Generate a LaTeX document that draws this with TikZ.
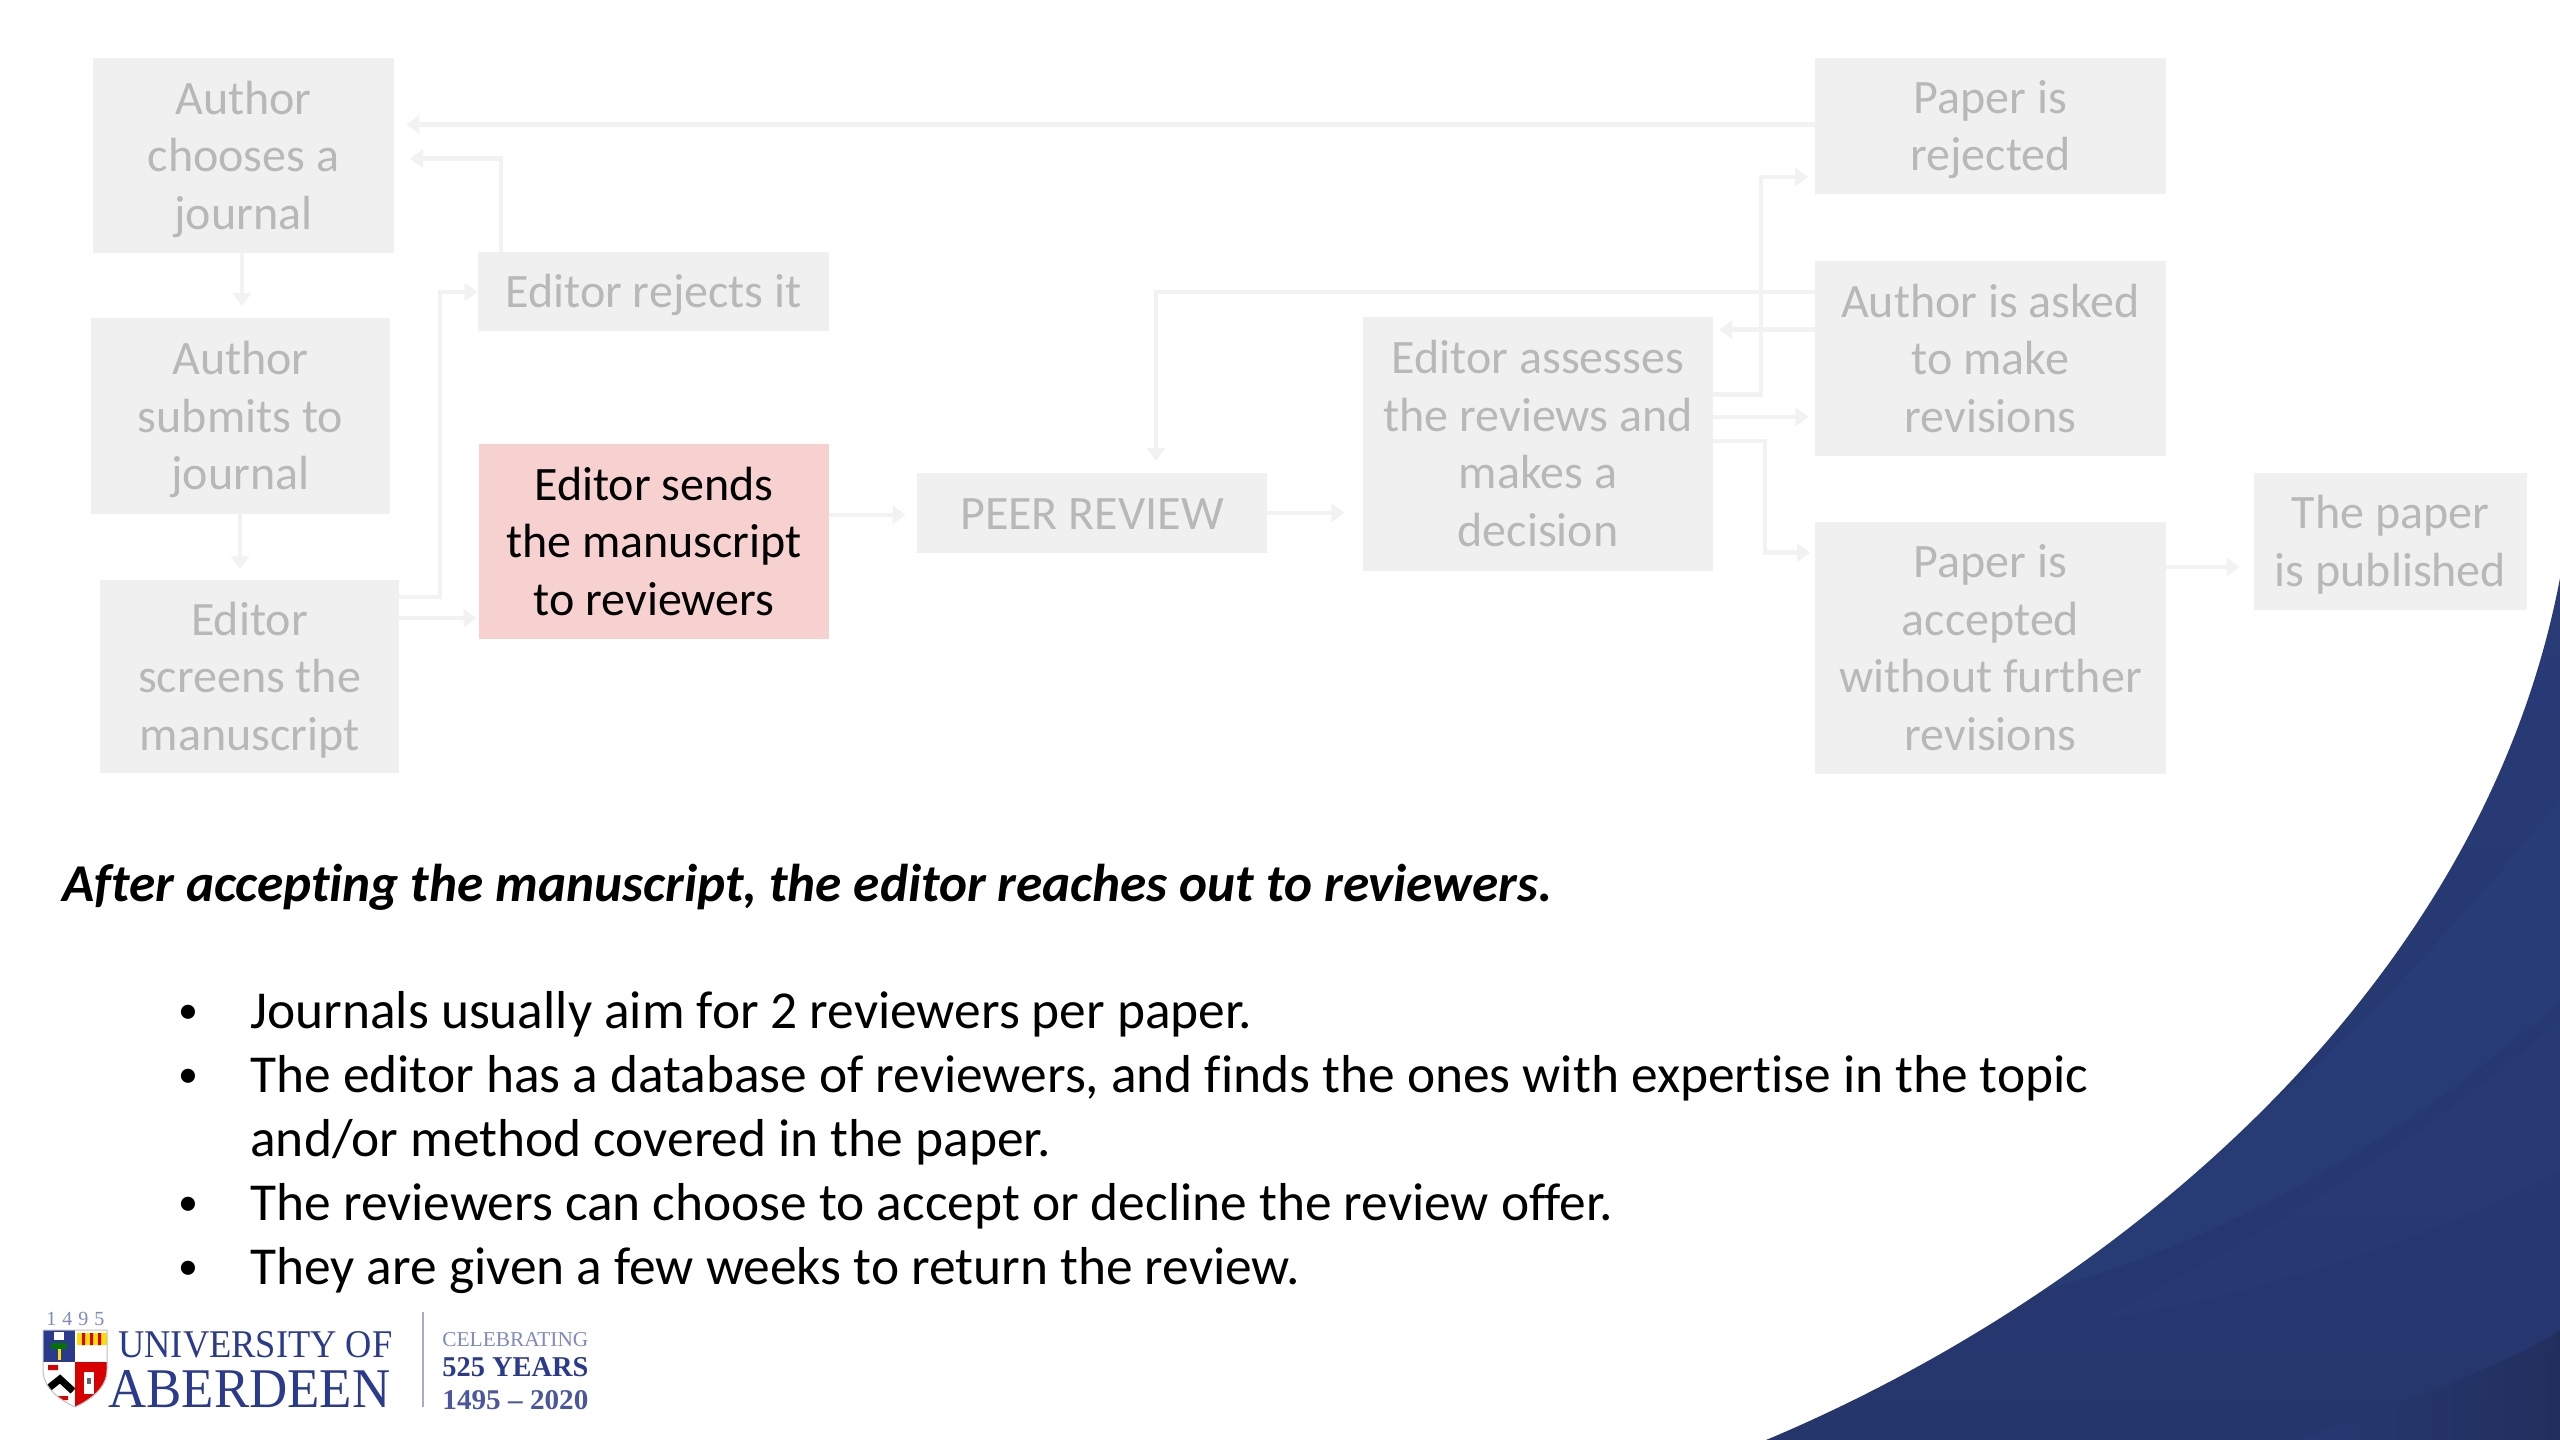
\documentclass[tikz,border=0pt]{standalone}
\usepackage{fontspec}
\usepackage{graphicx}
\setmainfont[Ligatures={NoCommon,TeX}]{Carlito}
\newfontfamily\logofont{Liberation Serif}
\usetikzlibrary{arrows.meta,calc}
\definecolor{boxgrey}{HTML}{F0F0F0}
\definecolor{boxtext}{HTML}{B8B8B8}
\definecolor{linkgrey}{HTML}{F2F2F2}
\definecolor{pinkbox}{HTML}{F7D1D0}
\definecolor{swoosh}{HTML}{283B76}
\definecolor{swooshlight}{HTML}{2C4583}
\definecolor{swooshdark}{HTML}{222C58}
\definecolor{logoblue}{HTML}{2A3A8C}
\definecolor{logopale}{HTML}{7F89BC}
\tikzset{
  x=0.5pt,y=-0.5pt,
  flowbox/.style={fill=boxgrey,text=boxtext,inner sep=0pt,align=center,
    font=\fontsize{24}{28.75}\selectfont},
  activebox/.style={flowbox,fill=pinkbox,text=black},
  link/.style={draw=linkgrey,line width=2.2pt,-{Triangle[length=6.5pt,width=9pt]}},
  bodyline/.style={anchor=base west,inner sep=0pt,font=\fontsize{26.7}{32}\selectfont},
  bulletmark/.style={anchor=base,inner sep=0pt,font=\fontsize{20}{24}\selectfont},
  logotext/.style={inner sep=0pt,anchor=south west,text=logoblue,font=\logofont},
}
\newcommand{\flownode}[7][flowbox]{% style, name, x0,y0,x1,y1, text
  \node[#1,minimum width=(#5-#3)*0.5pt,minimum height=(#6-#4)*0.5pt] (#2) at ({(#3+#5)/2},{(#4+#6)/2}) {\rule{0pt}{22pt}#7\rule[-6pt]{0pt}{6pt}};}
\begin{document}
\begin{tikzpicture}
\useasboundingbox (0,0) rectangle (2560,1440);
\fill[white] (0,0) rectangle (2560,1440);
% corner swoosh
\begin{scope}
\clip (1766,1440) .. controls (2100,1300) and (2480,1000) .. (2560,578) -- (2560,1440) -- cycle;
\shade[top color=swoosh,bottom color=swoosh!92!black] (1700,570) rectangle (2560,1440);
\fill[swooshlight,opacity=.3] (2560,800) .. controls (2400,1000) and (2200,1190) .. (2000,1300) .. controls (2200,1260) and (2420,1130) .. (2560,1000) -- cycle;
\fill[swooshlight,opacity=.2] (2560,1020) .. controls (2400,1160) and (2250,1240) .. (2100,1320) .. controls (2280,1290) and (2450,1230) .. (2560,1170) -- cycle;
\shade[left color=swoosh,right color=swooshdark,opacity=.7] (2300,1440) .. controls (2400,1400) and (2500,1370) .. (2560,1330) -- (2560,1440) -- cycle;
\end{scope}
% flow boxes
\flownode{A}{93}{58}{394}{253}{Author\\chooses a\\journal}
\flownode{B}{91}{318}{390}{514}{Author\\submits to\\journal}
\flownode{C}{100}{580}{399}{773}{Editor\\screens the\\manuscript}
\flownode{Rej}{478}{252}{829}{331}{Editor rejects it}
\flownode[activebox]{Send}{479}{444}{829}{639}{Editor sends\\the manuscript\\to reviewers}
\flownode{Peer}{917}{473}{1267}{553}{PEER REVIEW}
\flownode{Assess}{1363}{317}{1713}{571}{Editor assesses\\the reviews and\\makes a\\decision}
\flownode{Rejected}{1815}{58}{2166}{194}{Paper is\\rejected}
\flownode{Asked}{1815}{261}{2166}{456}{Author is asked\\to make\\revisions}
\flownode{Accepted}{1815}{522}{2166}{774}{Paper is\\accepted\\without further\\revisions}
\flownode{Pub}{2254}{473}{2527}{610}{The paper\\is published}
% connectors
\draw[link] (A.south -| 242,0) -- (242,306);
\draw[link] (B.south -| 240,0) -- (240,569);
\draw[link] (C.east |- 0,597) -| (440,292) -- (Rej.west |- 0,292);
\draw[link,shorten >=1pt] (C.east |- 0,618) -- (Send.west |- 0,618);
\draw[link] (Rej.north -| 501,0) |- (410,158.5);
\draw[link,shorten >=6pt] (Rejected.west |- 0,124.5) -- (A.east |- 0,124.5);
\draw[link,shorten >=5.5pt] (Send.east |- 0,515) -- (Peer.west |- 0,515);
\draw[link,shorten >=9pt] (Peer.east |- 0,513) -- (Assess.west |- 0,513);
\draw[link] (Asked.west |- 0,292) -| (1156,461);
\draw[link,shorten >=3pt] (Asked.west |- 0,329.5) -- (Assess.east |- 0,329.5);
\draw[link] (Assess.east |- 0,394.5) -| (1761,177) -- (1808,177);
\draw[link,shorten >=3pt] (Assess.east |- 0,417) -- (Asked.west |- 0,417);
\draw[link] (Assess.east |- 0,441) -| (1765,552.5) -- (1810,552.5);
\draw[link,shorten >=7pt] (Accepted.east |- 0,567) -- (Pub.west |- 0,567);
% text
\node[bodyline,font=\fontsize{26.6}{32}\selectfont\bfseries\itshape] (head) at (62,901) {After accepting the manuscript, the editor reaches out to reviewers.};
\node[bulletmark] (b1) at (188,1023) {•};
\node[bulletmark] (b2) at (188,1087) {•};
\node[bulletmark] (b3) at (188,1215) {•};
\node[bulletmark] (b4) at (188,1279) {•};
\node[bodyline] (t1) at (250,1028) {Journals usually aim for 2 reviewers per paper.};
\node[bodyline] (t2) at (250,1092) {The editor has a database of reviewers, and finds the ones with expertise in the topic};
\node[bodyline] (t2b) at (250,1156) {and/or method covered in the paper.};
\node[bodyline] (t3) at (250,1220) {The reviewers can choose to accept or decline the review offer.};
\node[bodyline] (t4) at (250,1284) {They are given a few weeks to return the review.};
% logo: shield
\begin{scope}
\clip (43,1330) -- (107,1330) -- (107,1370) .. controls (107,1388) and (90,1400) .. (75,1407) .. controls (60,1400) and (43,1388) .. (43,1370) -- cycle;
\fill[white] (43,1330) rectangle (107,1407);
\fill[logoblue] (43,1330) rectangle (75,1362);
\fill[red!85!black] (75,1362) rectangle (107,1407);
\fill[yellow!80!orange] (77,1333) rectangle (107,1345);
\fill[red!85!black] (82,1333) rectangle (85,1345) (90,1333) rectangle (93,1345) (98,1333) rectangle (101,1345);
\fill[white] (54,1332) rectangle (64,1340);
\fill[green!45!black] (51,1343) rectangle (67,1349);
\fill[yellow!80!orange] (58,1349) rectangle (61,1360);
\draw[black,line width=3.5pt] (45,1391) -- (60,1379) -- (73,1391);
\fill[red!85!black] (48,1365) rectangle (58,1370) (55,1396) rectangle (68,1400);
\fill[white] (84,1372) rectangle (94,1394);
\fill[black!60] (87,1378) rectangle (91,1384);
\end{scope}
\draw[black!25,line width=.5pt] (43,1330) -- (107,1330) -- (107,1370) .. controls (107,1388) and (90,1400) .. (75,1407) .. controls (60,1400) and (43,1388) .. (43,1370) -- cycle;
\node[logotext,text=logopale,font=\logofont\fontsize{10}{10}\selectfont] (yr) at (46,1326) {\addfontfeature{LetterSpace=30}1495};
\node[logotext] (uni) at (118,1358) {\resizebox{137pt}{13pt}{UNIVERSITY OF}};
\node[logotext] (abd) at (108,1408) {\resizebox{141pt}{18.5pt}{ABERDEEN}};
\draw[logopale!70,line width=1pt] (423,1312) -- (423,1407);
\node[logotext,text=logopale] (cel) at (442,1347) {\resizebox{73pt}{7pt}{CELEBRATING}};
\node[logotext,font=\logofont\bfseries] (yrs) at (442,1377) {\resizebox{73pt}{9.5pt}{525 YEARS}};
\node[logotext,font=\logofont\bfseries,text=logoblue!85] (span) at (442,1410) {\resizebox{73pt}{9.5pt}{1495 – 2020}};
\end{tikzpicture}
\end{document}
